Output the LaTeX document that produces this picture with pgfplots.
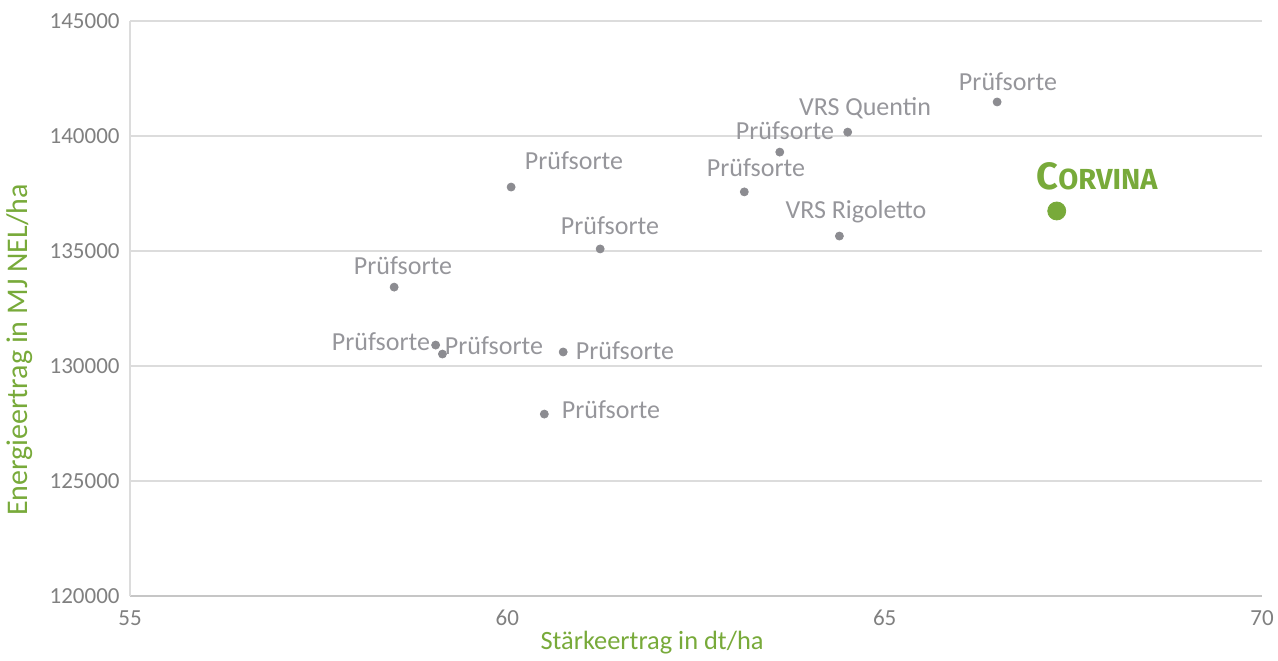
\documentclass[border=0pt]{standalone}
\usepackage{fontspec}
\setmainfont{Carlito}
\newfontfamily\corv{Fira Sans}
\usepackage{pgfplots}
\pgfplotsset{compat=1.18}
\definecolor{lbl}{RGB}{150,150,155}
\definecolor{ptc}{RGB}{140,140,145}
\definecolor{grn}{RGB}{120,170,58}
\definecolor{tickc}{RGB}{128,128,128}
\definecolor{gridc}{RGB}{220,220,220}
\begin{document}
\begin{tikzpicture}[x=0.5pt,y=0.5pt]
\useasboundingbox (-130,-64) rectangle (1148,596);
\begin{axis}[
  at={(0,0)}, anchor=south west,
  scale only axis, width=566pt, height=287.5pt,
  xmin=55, xmax=70, ymin=120000, ymax=145000,
  xtick={55,60,65,70}, ytick={120000,125000,130000,135000,140000,145000},
  xticklabels={55,60,65,70},
  yticklabels={120000,125000,130000,135000,140000,145000},
  axis x line=bottom, axis y line=left,
  x axis line style={-, draw=gray!45, line width=1.3pt},
  y axis line style={-, draw=gridc, line width=1pt},
  major tick length=0pt,
  ymajorgrids, grid style={gridc, line width=0.6pt},
  scaled y ticks=false,
  tick label style={font=\fontsize{11.5}{11.5}\selectfont, text=tickc, inner sep=0pt},
  yticklabel style={anchor=east, xshift=-5pt},
  xticklabel style={anchor=north, yshift=-7pt},
  clip=false,
]
\addplot[only marks, mark=*, mark size=2pt, ptc, mark options={draw=ptc, fill=ptc}] coordinates {
 (66.49,141480) (64.51,140170) (63.61,139300) (63.14,137570) (64.40,135650)
 (60.05,137780) (61.23,135090) (58.50,133430) (59.05,130910) (59.14,130520)
 (60.74,130610) (60.49,127910)
};
\addplot[only marks, mark=*, mark size=4.5pt, grn, mark options={draw=grn, fill=grn}] coordinates {(67.28,136740)};
\end{axis}
\begin{scope}[every node/.style={font=\fontsize{13}{13}\selectfont, text=lbl, inner sep=0pt}]
\node at (1008-130,596-82) {Prüfsorte};
\node at (865-130,596-108) {VRS Quentin};
\node at (785-130,596-131) {Prüfsorte};
\node at (756-130,596-168) {Prüfsorte};
\node at (856-130,596-212) {VRS Rigoletto};
\node at (574-130,596-161) {Prüfsorte};
\node at (610-130,596-226) {Prüfsorte};
\node at (403-130,596-266) {Prüfsorte};
\node at (381-130,596-342) {Prüfsorte};
\node at (494-130,596-346) {Prüfsorte};
\node at (625-130,596-351) {Prüfsorte};
\node at (611-130,596-410) {Prüfsorte};
\end{scope}
\node[text=grn, inner sep=0pt, font=\corv\bfseries] at (1097-130,596-176) {{\fontsize{19}{19}\selectfont C}{\fontsize{14.5}{14.5}\selectfont ORVINA}};
\node[text=grn, inner sep=0pt, rotate=90, font=\fontsize{15}{15}\selectfont] at (20-130,596-350) {Energieertrag in MJ NEL/ha};
\node[text=grn, inner sep=0pt, font=\fontsize{13.2}{13.2}\selectfont] at (652-130,596-643) {Stärkeertrag in dt/ha};
\end{tikzpicture}
\end{document}
